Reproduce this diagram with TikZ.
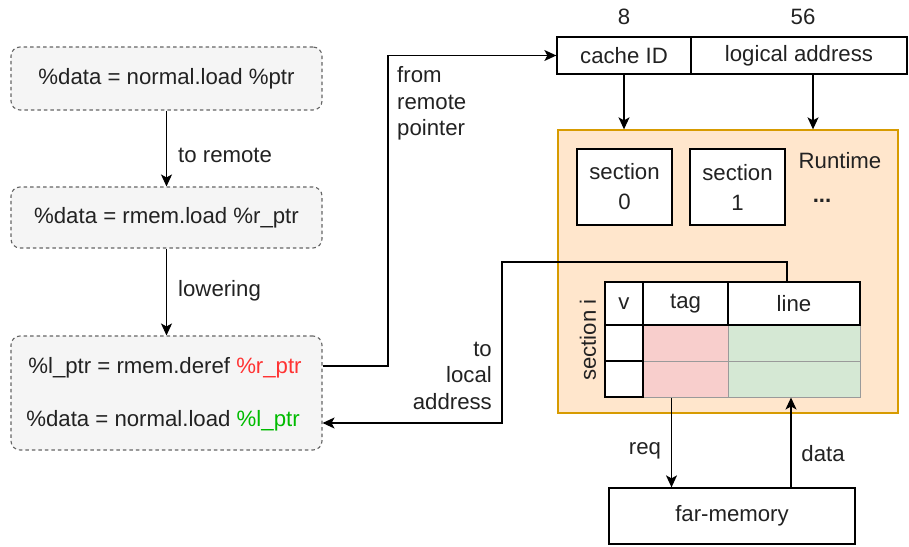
\documentclass[tikz,border=0pt]{standalone}
\usepackage{fontspec}
\setmainfont{Liberation Sans}
\usetikzlibrary{arrows.meta}
\definecolor{txt}{HTML}{222222}
\definecolor{boxfill}{HTML}{F5F5F5}
\definecolor{boxline}{HTML}{666666}
\definecolor{rtfill}{HTML}{FFE6CC}
\definecolor{rtline}{HTML}{D79B00}
\definecolor{pinkfill}{HTML}{F8CECC}
\definecolor{greenfill}{HTML}{D5E8D4}
\definecolor{cellline}{HTML}{9A9A9A}
\definecolor{redtxt}{HTML}{FF3333}
\definecolor{greentxt}{HTML}{00BB00}
\tikzset{
  every node/.style={font=\fontsize{22.2}{26}\selectfont, text=txt, inner sep=0pt},
  codebox/.style={draw=boxline, fill=boxfill, dash pattern=on 3.5pt off 3pt, rounded corners=9pt, line width=1.1pt, minimum width=311pt},
  plainbox/.style={draw=black, fill=white, line width=1.3pt},
  arr/.style={draw=black, line width=1.3pt, -{Stealth[length=12pt,width=11pt,inset=3pt]}},
  lbl/.style={text=txt},
}
\begin{document}
\begin{tikzpicture}[x=1pt,y=-1pt]
\useasboundingbox (0,0) rectangle (909,546);
% code boxes
\node[codebox, minimum height=63pt] (b1) at (166.5,78.5) {\%data = normal.load \%ptr};
\node[codebox, minimum height=61pt] (b2) at (166.5,217.5) {\%data = rmem.load \%r\_ptr};
\node[codebox, minimum height=114pt] (b3) at (166.5,393) {};
\node (l1) at (165,368) {\%l\_ptr = rmem.deref \textcolor{redtxt}{\%r\_ptr}};
\node (l2) at (163,421) {\%data = normal.load \textcolor{greentxt}{\%l\_ptr}};
\draw[arr] (b1.south) -- (b2.north);
\draw[arr] (b2.south) -- (b3.north);
\node[anchor=west] (lab1) at (178,155) {to remote};
\node[anchor=west] (lab2) at (178,291) {lowering};
% address fields
\node[plainbox, minimum width=134pt, minimum height=37pt] (cid) at (624,55.5) {cache ID};
\node[plainbox, minimum width=216pt, minimum height=37pt] (la) at (799,55.5) {logical address};
\node (n8) at (624,17) {8};
\node (n56) at (803,17) {56};
% runtime
\node[draw=rtline, fill=rtfill, line width=1.3pt, minimum width=340pt, minimum height=283pt] (rt) at (728,271.5) {};
\draw[arr] (cid.south) -- (cid.south |- rt.north);
\draw[arr] ([xshift=14pt]la.south) -- ([xshift=14pt]la.south |- rt.north);
\node[plainbox, minimum width=95pt, minimum height=76pt, align=center, font=\fontsize{22.2}{30}\selectfont] (s0) at (624.5,187) {section\\0};
\node[plainbox, minimum width=95pt, minimum height=76pt, align=center, font=\fontsize{22.2}{30}\selectfont] (s1) at (737.5,187) {section\\1};
\node (rtl) at (840,161) {Runtime};
\node (dots) at (822,201) {\textbf{...}};
\node[rotate=90] (si) at (588,340) {section i};
% table
\node[draw=cellline, fill=pinkfill, line width=1pt, minimum width=85pt, minimum height=36pt] (tg1) at (685.5,343) {};
\node[draw=cellline, fill=pinkfill, line width=1pt, minimum width=85pt, minimum height=36pt] (tg2) at (685.5,379) {};
\node[draw=cellline, fill=greenfill, line width=1pt, minimum width=132pt, minimum height=36pt] (ln1) at (794,343) {};
\node[draw=cellline, fill=greenfill, line width=1pt, minimum width=132pt, minimum height=36pt] (ln2) at (794,379) {};
\node[plainbox, minimum width=38pt, minimum height=36pt] (v1) at (624,343) {};
\node[plainbox, minimum width=38pt, minimum height=36pt] (v2) at (624,379) {};
\node[plainbox, minimum width=38pt, minimum height=43pt] (vh) at (624,303.5) {v};
\node[plainbox, minimum width=85pt, minimum height=43pt] (th) at (685.5,303.5) {tag};
\node[plainbox, minimum width=132pt, minimum height=43pt] (lh) at (794,303.5) {line};
% connectors to/from left
\coordinate (f1) at (388,366);
\draw[arr] (b3.east |- f1) -- (f1) |- (cid.west);
\node[anchor=west, align=left, font=\fontsize{22.2}{26.5}\selectfont] (lab3) at (397,103.5) {from\\remote\\pointer};
\coordinate (t1) at (502,262);
\coordinate (t2) at (502,423);
\draw[arr] ([xshift=-7pt]lh.north) |- (t1) -- (t2) -- (t2 -| b3.east);
\node[anchor=east, align=right, font=\fontsize{22.2}{26.5}\selectfont] (lab4) at (492,375.5) {to\\local\\address};
% far memory
\node[plainbox, minimum width=246pt, minimum height=56pt] (fm) at (732,516) {far-memory};
\draw[arr] ([xshift=-14pt]tg2.south) -- ([xshift=-14pt]tg2.south |- fm.north);
\draw[arr] ([xshift=-3pt]ln2.south |- fm.north) -- ([xshift=-3pt]ln2.south);
\node (req) at (645,451) {req};
\node (data) at (823,454) {data};
\end{tikzpicture}
\end{document}
